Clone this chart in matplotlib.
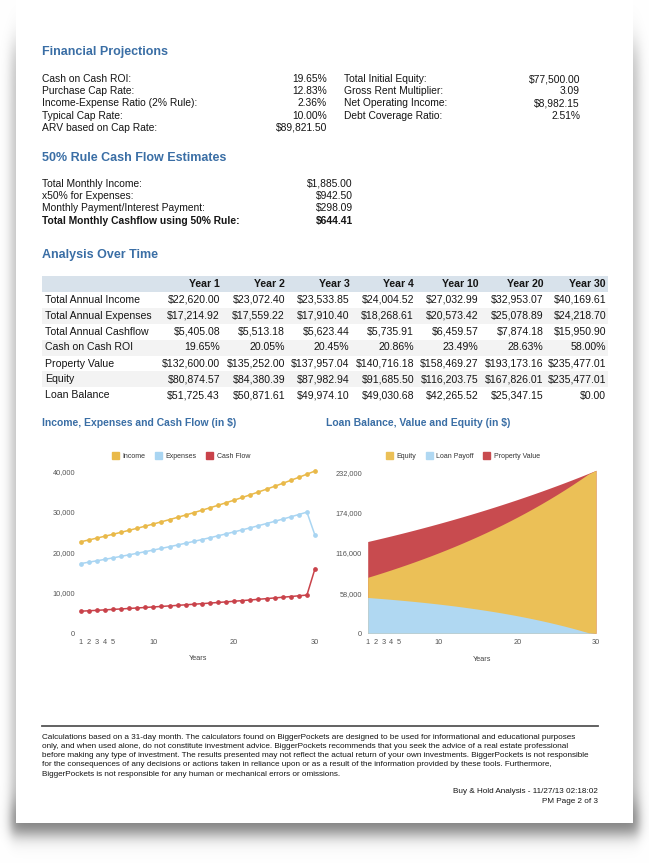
import numpy as np
import matplotlib
matplotlib.use("Agg")
import matplotlib.pyplot as plt
from matplotlib.patches import Rectangle, Patch
from matplotlib.ticker import FuncFormatter

plt.rcParams['font.family'] = ['Liberation Sans', 'DejaVu Sans']

# ---------------- data ----------------
fin_left_labels = ["Cash on Cash ROI:", "Purchase Cap Rate:", "Income-Expense Ratio (2% Rule):",
                   "Typical Cap Rate:", "ARV based on Cap Rate:"]
fin_left_values = ["19.65%", "12.83%", "2.36%", "10.00%", "$89,821.50"]
fin_right_labels = ["Total Initial Equity:", "Gross Rent Multiplier:", "Net Operating Income:",
                    "Debt Coverage Ratio:"]
fin_right_values = ["$77,500.00", "3.09", "$8,982.15", "2.51%"]

rule_labels = ["Total Monthly Income:", "x50% for Expenses:", "Monthly Payment/Interest Payment:",
               "Total Monthly Cashflow using 50% Rule:"]
rule_values = ["$1,885.00", "$942.50", "$298.09", "$644.41"]

table_cols = ["Year 1", "Year 2", "Year 3", "Year 4", "Year 10", "Year 20", "Year 30"]
table_rows = ["Total Annual Income", "Total Annual Expenses", "Total Annual Cashflow",
              "Cash on Cash ROI", "Property Value", "Equity", "Loan Balance"]
t_income = [22620.00, 23072.40, 23533.85, 24004.52, 27032.99, 32953.07, 40169.61]
t_expenses = [17214.92, 17559.22, 17910.40, 18268.61, 20573.42, 25078.89, 24218.70]
t_cashflow = [5405.08, 5513.18, 5623.44, 5735.91, 6459.57, 7874.18, 15950.90]
t_roi = [19.65, 20.05, 20.45, 20.86, 23.49, 28.63, 58.00]
t_value = [132600.00, 135252.00, 137957.04, 140716.18, 158469.27, 193173.16, 235477.01]
t_equity = [80874.57, 84380.39, 87982.94, 91685.50, 116203.75, 167826.01, 235477.01]
t_loan = [51725.43, 50871.61, 49974.10, 49030.68, 42265.52, 25347.15, 0.00]

years = list(range(1, 31))
income = [22620, 23072, 23534, 24005, 24485, 24974, 25474, 25983, 26503, 27033,
          27574, 28125, 28688, 29261, 29847, 30444, 31052, 31673, 32307, 32953,
          33612, 34284, 34970, 35670, 36383, 37110, 37853, 38610, 39382, 40170]
expenses = [17215, 17559, 17910, 18269, 18634, 19007, 19387, 19775, 20170, 20573,
            20985, 21405, 21833, 22269, 22715, 23169, 23632, 24105, 24587, 25079,
            25580, 26092, 26614, 27146, 27689, 28243, 28808, 29384, 29972, 24219]
cashflow = [5405, 5513, 5624, 5736, 5851, 5967, 6087, 6208, 6333, 6460,
            6589, 6720, 6855, 6992, 7132, 7275, 7420, 7568, 7720, 7874,
            8032, 8192, 8356, 8524, 8694, 8867, 9045, 9226, 9410, 15951]
prop_value = [132600, 135252, 137957, 140716, 143531, 146401, 149329, 152316, 155362, 158469,
              161639, 164871, 168169, 171532, 174963, 178462, 182031, 185672, 189385, 193173,
              197037, 200977, 204997, 209097, 213279, 217544, 221895, 226333, 230860, 235477]
equity = [80875, 84380, 87983, 91685, 95492, 99404, 103428, 107567, 111824, 116204,
          120711, 125349, 130125, 135042, 140106, 145322, 150696, 156234, 161941, 167826,
          173892, 180148, 186604, 193261, 200133, 207226, 214550, 222112, 229923, 235477]
loan = [51725, 50872, 49974, 49031, 48039, 46997, 45901, 44749, 43538, 42266,
        40928, 39522, 38044, 36490, 34857, 33140, 31335, 29438, 27444, 25348,
        23145, 20829, 18393, 15836, 13146, 10318, 7345, 4221, 937, 0]

x_ticks = [1, 2, 3, 4, 5, 10, 20, 30]
y_ticks_left = [0, 10000, 20000, 30000, 40000]
y_ticks_right = [0, 58000, 116000, 174000, 232000]

footer_lines = [
    "Calculations based on a 31-day month. The calculators found on BiggerPockets are designed to be used for informational and educational purposes",
    "only, and when used alone, do not constitute investment advice. BiggerPockets recommends that you seek the advice of a real estate professional",
    "before making any type of investment. The results presented may not reflect the actual return of your own investments. BiggerPockets is not responsible",
    "for the consequences of any decisions or actions taken in reliance upon or as a result of the information provided by these tools. Furthermore,",
    "BiggerPockets is not responsible for any human or mechanical errors or omissions.",
]

# ---------------- styles ----------------
W, H = 649, 863
BLUE = '#3a6ea5'
TXT = '#151515'
C_INC = '#e9b949'
C_EXP = '#a9d5f2'
C_CF = '#c9424a'
C_EQ = '#ebc057'
C_LOAN = '#b0d8f2'
C_PV = '#c84b4f'

fig = plt.figure(figsize=(W / 100, H / 100), dpi=100)


def fx(x):
    return x / W


def fy(y):
    return 1 - y / H


def text(x, y, s, size=7.4, ha='left', weight='normal', color=TXT):
    fig.text(fx(x), fy(y), s, fontsize=size, ha=ha, va='center', weight=weight, color=color)


# background with page shadow
bg = fig.add_axes([0, 0, 1, 1])
bg.set_xlim(0, W)
bg.set_ylim(H, 0)
bg.axis('off')
xx = np.arange(W) + 0.5
yy = np.arange(H) + 0.5
sig = lambda t: 1 / (1 + np.exp(-t))
sx = sig((xx - 11) / 3) * sig((639 - xx) / 3)
sy = sig((yy - 45) / 10) * sig((834 - yy) / 5)
strength = 0.24 + 0.3 * sig((yy - 805) / 8)
shade = np.outer(sy * strength, sx)
img = np.dstack([1 - shade] * 3)
bg.imshow(img, extent=(0, W, H, 0), interpolation='bilinear', zorder=0, aspect='auto')
bg.add_patch(Rectangle((16, -5), 617, 828, facecolor='white', edgecolor='none', zorder=1))

# ---------------- Financial Projections ----------------
text(42, 52, "Financial Projections", size=9, weight='bold', color=BLUE)
for i, (l, v) in enumerate(zip(fin_left_labels, fin_left_values)):
    y = 79 + i * 12.2
    text(42, y, l)
    text(327, y, v, ha='right')
for i, (l, v) in enumerate(zip(fin_right_labels, fin_right_values)):
    y = 79 + i * 12.2
    text(344, y, l)
    text(580, y, v, ha='right')

# ---------------- 50% rule ----------------
text(42, 158, "50% Rule Cash Flow Estimates", size=9, weight='bold', color=BLUE)
for i, (l, v) in enumerate(zip(rule_labels, rule_values)):
    y = 184 + i * 12.2
    w = 'bold' if i == 3 else 'normal'
    text(42, y, l, weight=w)
    text(353, y, v, ha='right', weight=w)

# ---------------- Analysis Over Time ----------------
text(42, 255, "Analysis Over Time", size=9, weight='bold', color=BLUE)
bg.add_patch(Rectangle((42, 276), 566, 15.5, facecolor='#d8e2eb', edgecolor='none', zorder=2))
col_right = [220, 285, 349.5, 414, 478.5, 543.5, 606]
for c, xr in zip(table_cols, col_right):
    text(xr, 284, c, size=7.6, ha='right', weight='bold')

fmt_money = lambda v: "${:,.2f}".format(v)
fmt_pct = lambda v: "{:.2f}%".format(v)
row_data = [t_income, t_expenses, t_cashflow, t_roi, t_value, t_equity, t_loan]
for r, (lab, vals) in enumerate(zip(table_rows, row_data)):
    y = 299.5 + r * 16
    if r % 2 == 1:
        bg.add_patch(Rectangle((42, y - 8), 566, 16, facecolor='#f3f3f3', edgecolor='none', zorder=2))
    text(45, y, lab, size=7.6)
    for v, xr in zip(vals, col_right):
        s = fmt_pct(v) if r == 3 else fmt_money(v)
        text(xr, y, s, size=7.6, ha='right')

# ---------------- charts ----------------
text(42, 423, "Income, Expenses and Cash Flow (in $)", size=7.5, weight='bold', color=BLUE)
text(326, 423, "Loan Balance, Value and Equity (in $)", size=7.5, weight='bold', color=BLUE)

comma = FuncFormatter(lambda v, p: "{:,.0f}".format(v))


def style_axes(ax, yt):
    ax.set_xlim(1, 30)
    ax.set_xticks(x_ticks)
    ax.set_yticks(yt)
    ax.yaxis.set_major_formatter(comma)
    ax.tick_params(length=0, labelsize=5.3, colors='#555555', pad=4)
    for s in ax.spines.values():
        s.set_visible(False)
    ax.set_facecolor('none')
    ax.set_xlabel("Years", fontsize=5.2, color='#444444', labelpad=7)


ax1 = fig.add_axes([fx(80.7), fy(633), (315 - 80.7) / W, (633 - 471.7) / H])
ax1.set_ylim(0, 40000)
ax1.plot(years, income, color=C_INC, lw=1.1, marker='o', ms=2.4, clip_on=False, zorder=3)
ax1.plot(years, expenses, color=C_EXP, lw=1.1, marker='o', ms=2.4, clip_on=False, zorder=3)
ax1.plot(years, cashflow, color=C_CF, lw=1.1, marker='o', ms=2.4, clip_on=False, zorder=3)
style_axes(ax1, y_ticks_left)
h1 = [Patch(color=C_INC, label="Income"), Patch(color=C_EXP, label="Expenses"),
      Patch(color=C_CF, label="Cash Flow")]
ax1.legend(handles=h1, loc='center', bbox_to_anchor=(fx(181), fy(456)), bbox_transform=fig.transFigure,
           ncol=3, frameon=False, fontsize=5.0, handlelength=1.05, handleheight=1.05,
           columnspacing=1.3, handletextpad=0.5, labelcolor='#333333')

ax2 = fig.add_axes([fx(367.7), fy(633.3), (596 - 367.7) / W, (633.3 - 472.7) / H])
ax2.set_ylim(0, 232000)
ax2.fill_between(years, 0, prop_value, color=C_PV, lw=0, clip_on=False)
ax2.fill_between(years, 0, equity, color=C_EQ, lw=0, clip_on=False)
ax2.fill_between(years, 0, loan, color=C_LOAN, lw=0, clip_on=False)
style_axes(ax2, y_ticks_right)
h2 = [Patch(color=C_EQ, label="Equity"), Patch(color=C_LOAN, label="Loan Payoff"),
      Patch(color=C_PV, label="Property Value")]
ax2.legend(handles=h2, loc='center', bbox_to_anchor=(fx(463), fy(456)), bbox_transform=fig.transFigure,
           ncol=3, frameon=False, fontsize=5.0, handlelength=1.05, handleheight=1.05,
           columnspacing=1.3, handletextpad=0.5, labelcolor='#333333')

# ---------------- footer ----------------
bg.plot([42, 598], [726, 726], color='#555555', lw=1.3, zorder=3)
for i, line in enumerate(footer_lines):
    text(42, 737 + i * 9.3, line, size=5.9)
text(598, 791, "Buy & Hold Analysis - 11/27/13 02:18:02", size=5.9, ha='right')
text(598, 801.5, "PM Page 2 of 3", size=5.9, ha='right')

fig.savefig("out.png", dpi=100)
